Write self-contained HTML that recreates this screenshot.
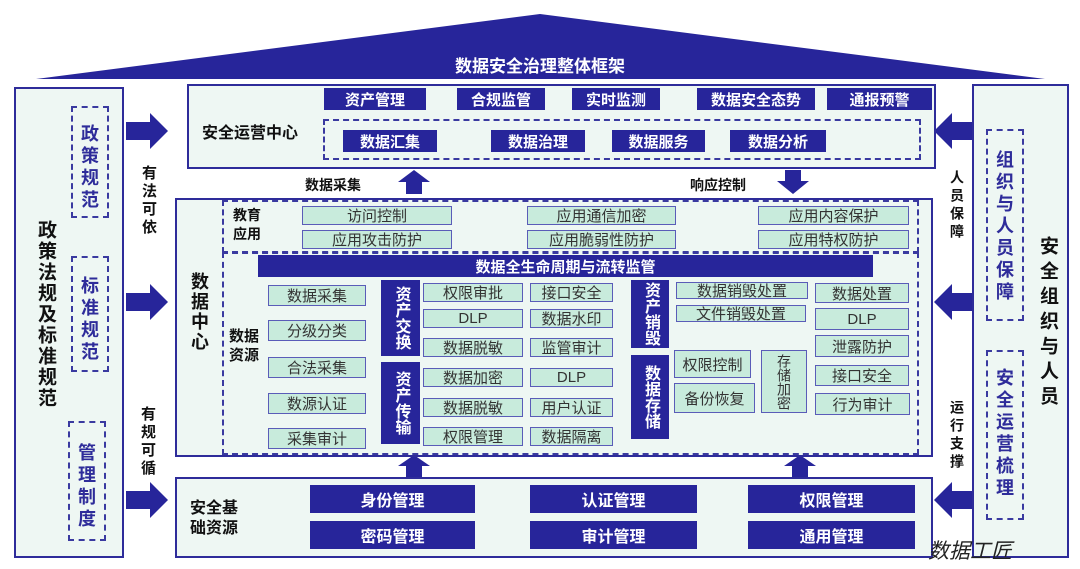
<!DOCTYPE html>
<html><head><meta charset="utf-8"><style>
*{margin:0;padding:0;box-sizing:border-box}
body{width:1080px;height:569px;background:#fff;position:relative;overflow:hidden;font-family:"Liberation Sans","Noto Sans CJK SC",sans-serif}
div{position:absolute}
.pan{background:#eef7f3;border:2px solid #2e2c9a}
.dash{border:2px dashed #3a3aa0}
.nv{background:#27259a;color:#fff;font-weight:bold;display:flex;align-items:center;justify-content:center;font-size:15px}
.g{background:#c8ebdc;border:1.5px solid #5a5cb8;color:#333;display:flex;align-items:center;justify-content:center;font-size:15px}
.vt{writing-mode:vertical-rl;text-orientation:upright;font-weight:bold;line-height:1}
.lb{font-weight:bold;color:#111;font-size:14px}
</style></head><body>
<svg width="1080" height="569" style="position:absolute;left:0;top:0">
<polygon points="36,79 540,14 1045,79" fill="#27259a"/>
<g fill="#27259a">
<polygon points="126,122 150,122 150,113 168,131 150,149 150,140 126,140"/>
<polygon points="126,293 150,293 150,284 168,302 150,320 150,311 126,311"/>
<polygon points="126,491 150,491 150,482 168,500 150,518 150,509 126,509"/>
<polygon points="972,122 952,122 952,113 934,131 952,149 952,140 972,140"/>
<polygon points="972,293 952,293 952,284 934,302 952,320 952,311 972,311"/>
<polygon points="972,491 952,491 952,482 934,500 952,518 952,509 972,509"/>
<polygon points="406,194 422,194 422,182 430,182 414,170 398,182 406,182"/>
<polygon points="785,170 801,170 801,181 809,181 793,194 777,181 785,181"/>
<polygon points="406,477 422,477 422,466 430,466 414,455 398,466 406,466"/>
<polygon points="792,477 808,477 808,466 816,466 800,455 784,466 792,466"/>
</g>
</svg>
<div style="left:0;width:1080px;top:52px;text-align:center;color:#fff;font-weight:bold;font-size:17px">数据安全治理整体框架</div>

<!-- left panel -->
<div class="pan" style="left:14px;top:87px;width:110px;height:471px"></div>
<div class="vt" style="left:36px;top:220px;font-size:19px;color:#111;line-height:1;letter-spacing:2px">政策法规及标准规范</div>
<div class="dash" style="left:71px;top:106px;width:38px;height:112px"></div>
<div class="vt" style="left:80px;top:124px;font-size:18px;color:#2e2c9a;letter-spacing:4px">政策规范</div>
<div class="dash" style="left:71px;top:256px;width:38px;height:116px"></div>
<div class="vt" style="left:80px;top:276px;font-size:18px;color:#2e2c9a;letter-spacing:4px">标准规范</div>
<div class="dash" style="left:68px;top:421px;width:38px;height:120px"></div>
<div class="vt" style="left:77px;top:443px;font-size:18px;color:#2e2c9a;letter-spacing:4px">管理制度</div>
<div class="vt lb" style="left:141px;top:165px;font-size:15px;letter-spacing:3px">有法可依</div>
<div class="vt lb" style="left:140px;top:406px;font-size:15px;letter-spacing:3px">有规可循</div>

<!-- right panel -->
<div class="pan" style="left:972px;top:84px;width:97px;height:474px"></div>
<div class="vt" style="left:1038px;top:236px;font-size:19px;color:#111;letter-spacing:6px">安全组织与人员</div>
<div class="dash" style="left:986px;top:129px;width:38px;height:192px"></div>
<div class="vt" style="left:995px;top:150px;font-size:18px;color:#2e2c9a;letter-spacing:4px">组织与人员保障</div>
<div class="dash" style="left:986px;top:350px;width:38px;height:170px"></div>
<div class="vt" style="left:995px;top:368px;font-size:18px;color:#2e2c9a;letter-spacing:4px">安全运营梳理</div>
<div class="vt lb" style="left:950px;top:170px;font-size:14px;letter-spacing:4px">人员保障</div>
<div class="vt lb" style="left:950px;top:400px;font-size:14px;letter-spacing:4px">运行支撑</div>

<!-- top center -->
<div class="pan" style="left:187px;top:84px;width:749px;height:85px"></div>
<div class="lb" style="left:202px;top:119px;font-size:16px">安全运营中心</div>
<div class="nv" style="left:324px;top:88px;width:102px;height:22px">资产管理</div>
<div class="nv" style="left:457px;top:88px;width:88px;height:22px">合规监管</div>
<div class="nv" style="left:572px;top:88px;width:88px;height:22px">实时监测</div>
<div class="nv" style="left:697px;top:88px;width:118px;height:22px">数据安全态势</div>
<div class="nv" style="left:827px;top:88px;width:105px;height:22px">通报预警</div>
<div class="dash" style="left:323px;top:119px;width:598px;height:41px"></div>
<div class="nv" style="left:343px;top:130px;width:94px;height:22px">数据汇集</div>
<div class="nv" style="left:491px;top:130px;width:94px;height:22px">数据治理</div>
<div class="nv" style="left:612px;top:130px;width:93px;height:22px">数据服务</div>
<div class="nv" style="left:730px;top:130px;width:96px;height:22px">数据分析</div>
<div class="lb" style="left:305px;top:175px;font-size:14px">数据采集</div>
<div class="lb" style="left:690px;top:175px;font-size:14px">响应控制</div>

<!-- middle -->
<div class="pan" style="left:175px;top:198px;width:758px;height:259px"></div>
<div class="vt" style="left:190px;top:272px;font-size:18px;font-weight:bold;color:#111;letter-spacing:2px">数据中心</div>
<div class="dash" style="left:222px;top:200px;width:697px;height:53px"></div>
<div class="dash" style="left:222px;top:252px;width:697px;height:203px"></div>
<div class="lb" style="left:233px;top:206px;width:36px;line-height:19px;font-size:14px">教育应用</div>
<div class="g" style="left:302px;top:206px;width:150px;height:19px">访问控制</div>
<div class="g" style="left:302px;top:230px;width:150px;height:19px">应用攻击防护</div>
<div class="g" style="left:527px;top:206px;width:149px;height:19px">应用通信加密</div>
<div class="g" style="left:527px;top:230px;width:149px;height:19px">应用脆弱性防护</div>
<div class="g" style="left:758px;top:206px;width:151px;height:19px">应用内容保护</div>
<div class="g" style="left:758px;top:230px;width:151px;height:19px">应用特权防护</div>
<div class="nv" style="left:258px;top:255px;width:615px;height:22px">数据全生命周期与流转监管</div>
<div class="lb" style="left:229px;top:327px;width:36px;line-height:19px;font-size:15px">数据资源</div>
<div class="g" style="left:268px;top:285px;width:98px;height:21px">数据采集</div>
<div class="g" style="left:268px;top:320px;width:98px;height:21px">分级分类</div>
<div class="g" style="left:268px;top:357px;width:98px;height:21px">合法采集</div>
<div class="g" style="left:268px;top:393px;width:98px;height:21px">数源认证</div>
<div class="g" style="left:268px;top:428px;width:98px;height:21px">采集审计</div>
<div class="nv vt" style="left:381px;top:280px;width:39px;height:76px;font-size:16px">资产交换</div>
<div class="nv vt" style="left:381px;top:362px;width:39px;height:82px;font-size:16px">资产传输</div>
<div class="g" style="left:423px;top:283px;width:100px;height:19px">权限审批</div>
<div class="g" style="left:423px;top:309px;width:100px;height:19px">DLP</div>
<div class="g" style="left:423px;top:338px;width:100px;height:19px">数据脱敏</div>
<div class="g" style="left:423px;top:368px;width:100px;height:19px">数据加密</div>
<div class="g" style="left:423px;top:398px;width:100px;height:19px">数据脱敏</div>
<div class="g" style="left:423px;top:427px;width:100px;height:19px">权限管理</div>
<div class="g" style="left:530px;top:283px;width:83px;height:19px">接口安全</div>
<div class="g" style="left:530px;top:309px;width:83px;height:19px">数据水印</div>
<div class="g" style="left:530px;top:338px;width:83px;height:19px">监管审计</div>
<div class="g" style="left:530px;top:368px;width:83px;height:19px">DLP</div>
<div class="g" style="left:530px;top:398px;width:83px;height:19px">用户认证</div>
<div class="g" style="left:530px;top:427px;width:83px;height:19px">数据隔离</div>
<div class="nv vt" style="left:631px;top:280px;width:38px;height:68px;font-size:16px">资产销毁</div>
<div class="nv vt" style="left:631px;top:355px;width:38px;height:84px;font-size:16px">数据存储</div>
<div class="g" style="left:676px;top:282px;width:132px;height:17px">数据销毁处置</div>
<div class="g" style="left:676px;top:305px;width:130px;height:17px">文件销毁处置</div>
<div class="g" style="left:674px;top:350px;width:77px;height:28px">权限控制</div>
<div class="g" style="left:674px;top:383px;width:81px;height:30px">备份恢复</div>
<div class="g" style="left:761px;top:350px;width:46px;height:63px;writing-mode:vertical-rl;line-height:1;font-size:14px">存储加密</div>
<div class="g" style="left:815px;top:283px;width:94px;height:20px">数据处置</div>
<div class="g" style="left:815px;top:308px;width:94px;height:22px">DLP</div>
<div class="g" style="left:815px;top:335px;width:94px;height:22px">泄露防护</div>
<div class="g" style="left:815px;top:365px;width:94px;height:21px">接口安全</div>
<div class="g" style="left:815px;top:393px;width:95px;height:22px">行为审计</div>

<!-- bottom -->
<div class="pan" style="left:175px;top:477px;width:758px;height:81px"></div>
<div class="lb" style="left:190px;top:499px;width:52px;font-size:16px;line-height:20px">安全基础资源</div>
<div class="nv" style="left:310px;top:485px;width:165px;height:28px;font-size:16px">身份管理</div>
<div class="nv" style="left:310px;top:521px;width:165px;height:28px;font-size:16px">密码管理</div>
<div class="nv" style="left:530px;top:485px;width:167px;height:28px;font-size:16px">认证管理</div>
<div class="nv" style="left:530px;top:521px;width:167px;height:28px;font-size:16px">审计管理</div>
<div class="nv" style="left:748px;top:485px;width:167px;height:28px;font-size:16px">权限管理</div>
<div class="nv" style="left:748px;top:521px;width:167px;height:28px;font-size:16px">通用管理</div>
<div style="left:928px;top:535px;font-size:21px;font-style:italic;color:#222">数据工匠</div>
</body></html>
